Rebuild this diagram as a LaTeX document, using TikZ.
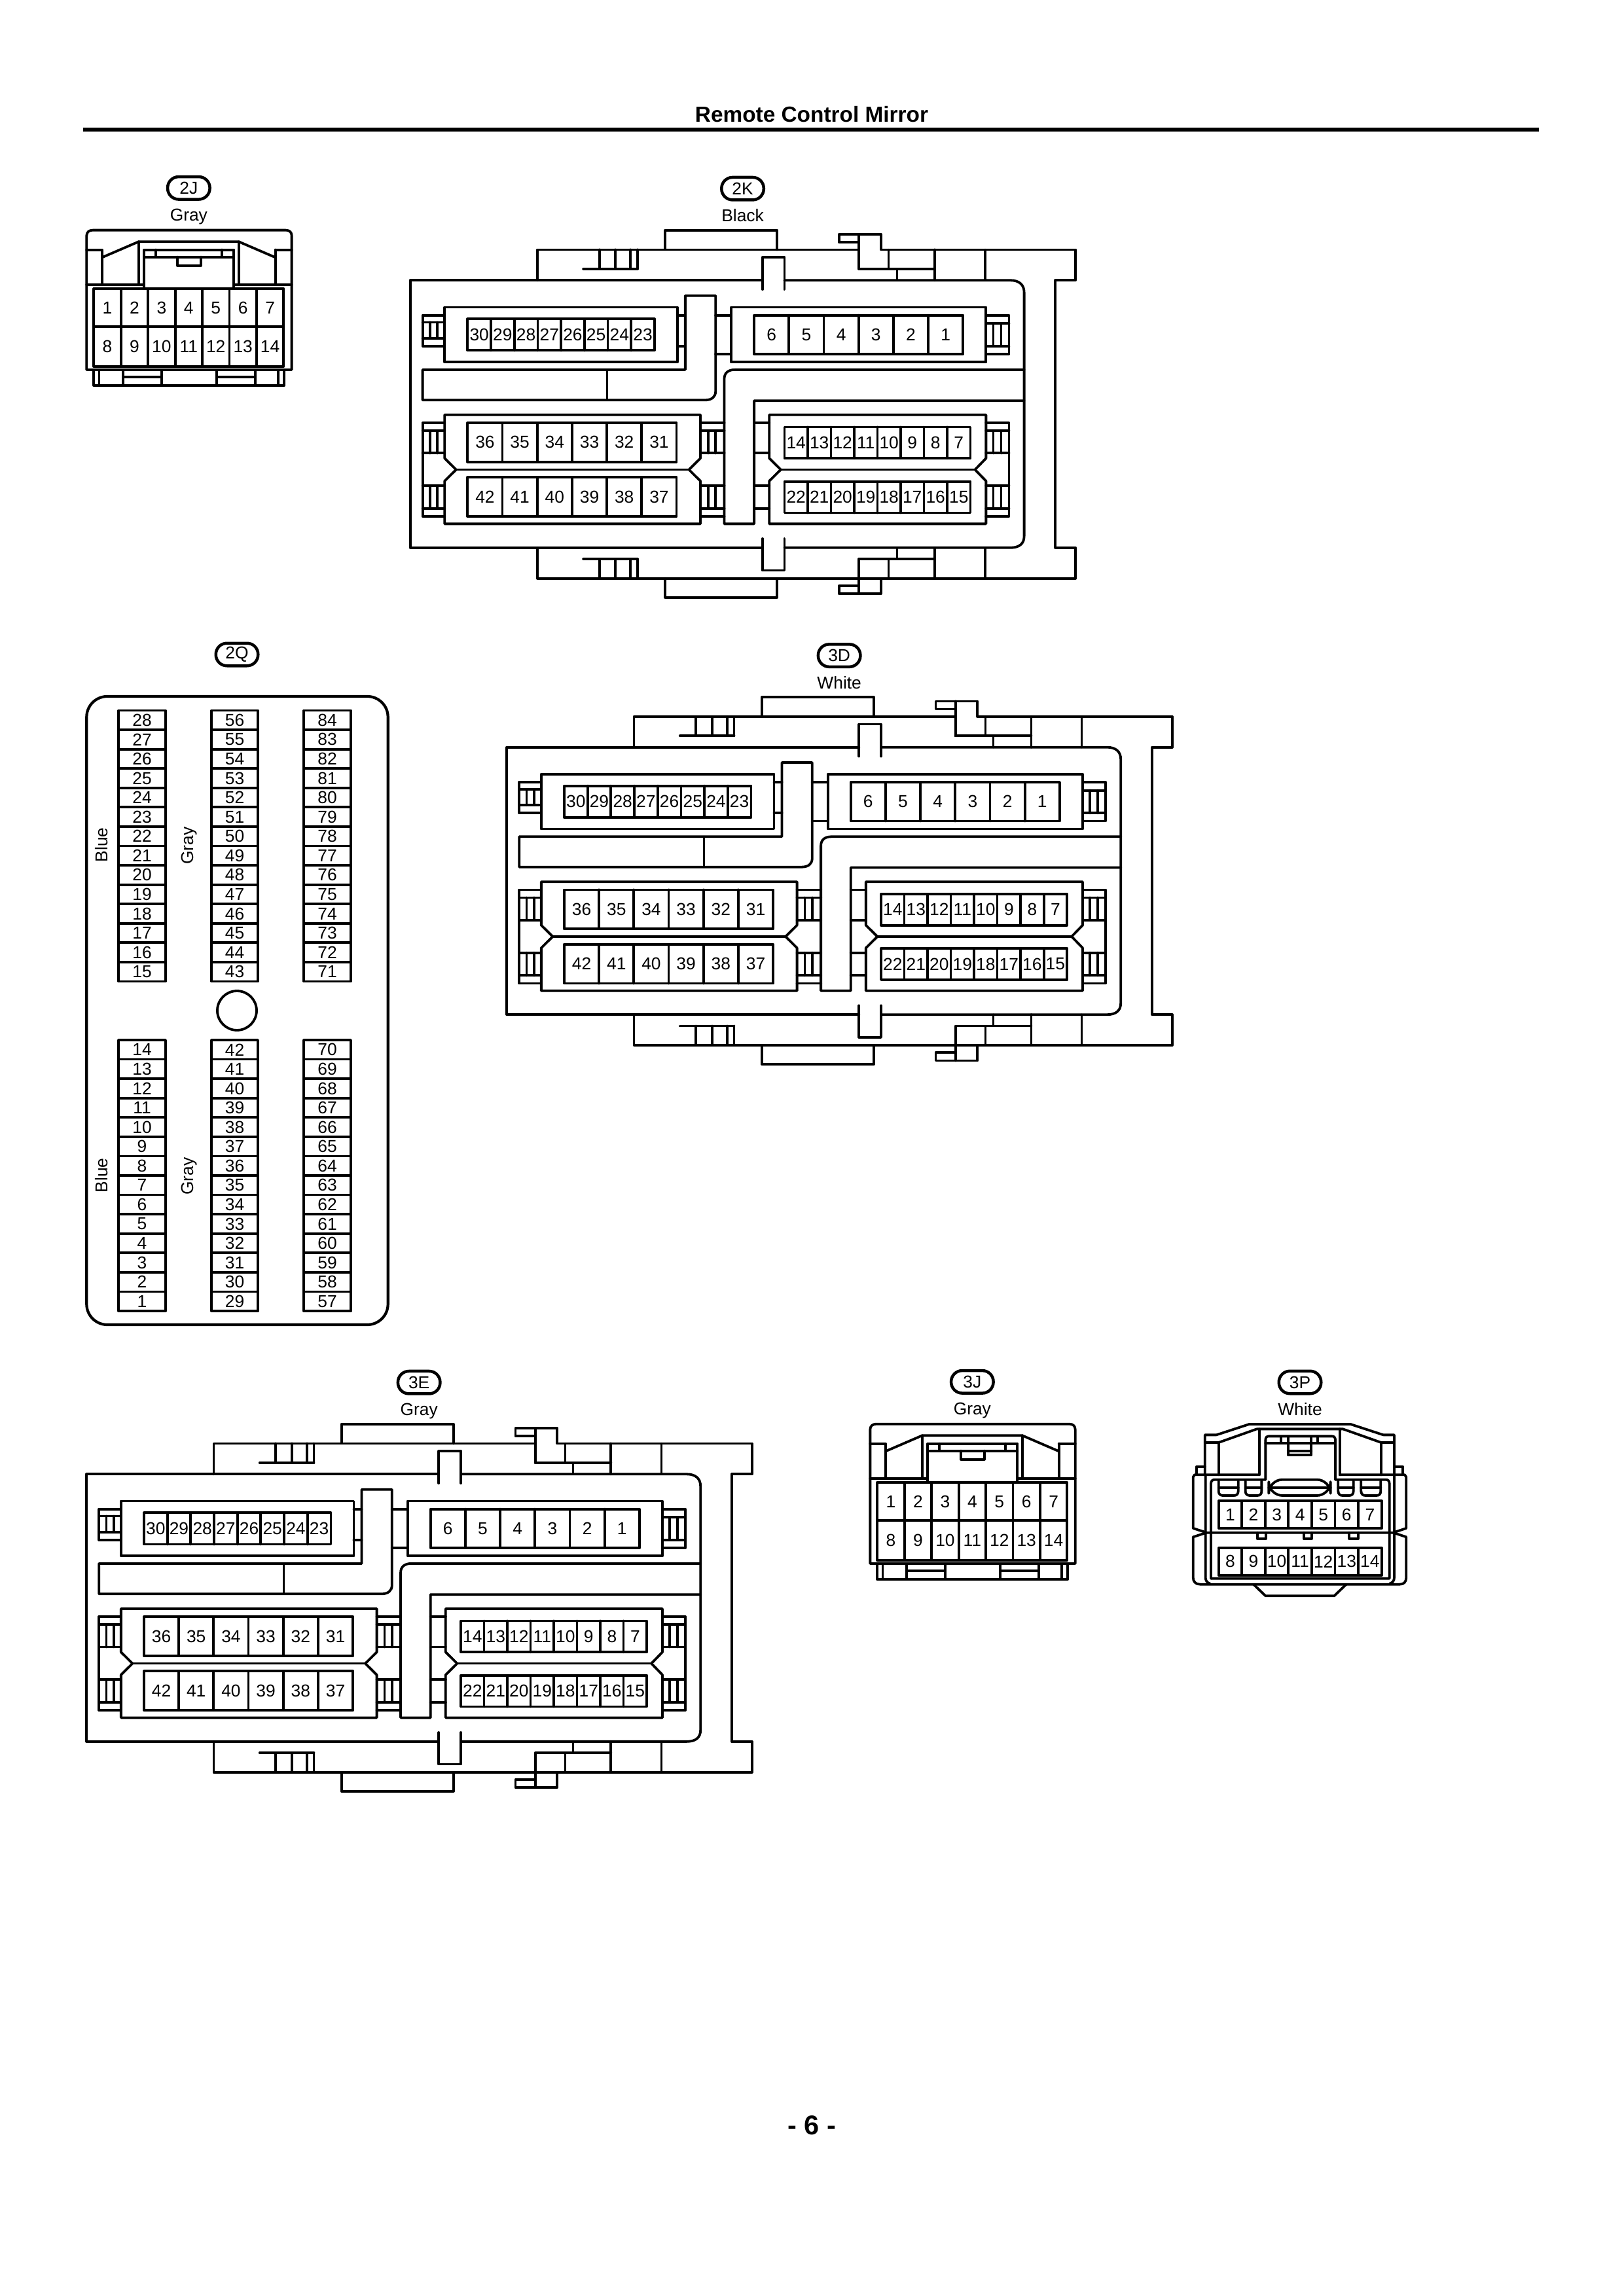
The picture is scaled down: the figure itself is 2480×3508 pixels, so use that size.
\documentclass[tikz,border=0pt]{standalone}
\usepackage{fontspec}
\setmainfont{Liberation Sans}
\usetikzlibrary{calc}
\tikzset{
  thk/.style={line width=0.38mm},
  thn/.style={line width=0.32mm},
  pintxt/.style={inner sep=0pt,font=\fontsize{7.5}{8}\selectfont},
  oval/.style={draw,rectangle,line width=0.45mm,rounded corners=4.8pt,minimum width=6.45mm,minimum height=3.45mm,inner sep=0pt,font=\fontsize{7.5}{8}\selectfont},
  colourtxt/.style={inner sep=0pt,text depth=0pt,text height=5.4pt,font=\fontsize{7.5}{8}\selectfont},
}
% pin row: x0,y0,x1,y1,n,labels
\newcommand{\pinrow}[6]{%
  \draw[thk] (#1,#2) rectangle (#3,#4);
  \foreach \lab [count=\i] in {#6} {
    \pgfmathsetmacro\xm{#1+(\i-0.5)*(#3-#1)/#5}
    \pgfmathsetmacro\xb{#1+\i*(#3-#1)/#5}
    \ifnum\i<#5 \draw[thk] (\xb,#2)--(\xb,#4);\fi
    \node[pintxt] (\cn-\lab) at (\xm,{(#2+#4)/2}) {\lab};
  }}
% vertical pin column for 2Q: x0,y0,x1,y1,first label
\newcommand{\pincol}[5]{%
  \draw[thk] (#1,#2) rectangle (#3,#4);
  \foreach \i in {0,...,13} {
    \pgfmathsetmacro\ym{#2+(\i+0.5)*(#4-#2)/14}
    \pgfmathsetmacro\yb{#2+(\i+1)*(#4-#2)/14}
    \pgfmathtruncatemacro\lab{#5-\i}
    \ifnum\i<13 \draw[thk] (#1,\yb)--(#3,\yb);\fi
    \node[pintxt] (\cn-\lab) at ({(#1+#3)/2},\ym) {\lab};
  }}
% ribs block: x0,x1, y of band top, band bottom, rib x a, rib x b
\newcommand{\ribband}[6]{%
  \draw[thk] (#1,#3)--(#2,#3) (#1,#4)--(#2,#4);
  \draw[thk] (#5,#3)--(#5,#4) (#6,#3)--(#6,#4);
}
% large connector, in the zoom coordinates of 2K
\newcommand{\bigconn}[5]{% prefix, shiftx, shifty, label, colour
 \begin{scope}[shift={(#2,#3)},shift={(600,260)},xscale=0.7015,yscale=0.4337,thk]
  \def\cn{#1}
  \node[oval] (#1-oval) at (762,65) {#4};
  \node[colourtxt] (#1-col) at (762,160) {#5};
  % top tab and upper housing
  \draw (593,278)--(593,212)--(837,212)--(837,280);
  \draw (315,388)--(315,280)--(1015,280);
  \draw (1015,348)--(1015,226);
  \draw (1015,254)--(972,254)--(972,226)--(1063,226)--(1063,280)--(1487,280)--(1487,388)--(1443,388)--(1443,1330)--(1487,1330)--(1487,1438)--(1063,1438)--(1063,1492)--(972,1492)--(972,1464)--(1015,1464);
  \draw (1015,1492)--(1015,1370)--(1180,1370);
  \draw (1015,348)--(1180,348);
  \draw (315,1330)--(315,1438)--(1063,1438);
  \draw (593,1438)--(593,1505)--(837,1505)--(837,1438);
  \draw (1180,280)--(1180,388) (1180,1330)--(1180,1438);
  \draw[thn] (1080,280)--(1080,348) (1290,280)--(1290,388) (1098,348)--(1098,388);
  \draw[thn] (1080,1370)--(1080,1438) (1290,1330)--(1290,1438) (1098,1330)--(1098,1370);
  % ribs top and bottom
  \draw[line cap=round] (415,348)--(533,348) (415,1370)--(533,1370);
  \draw (450,280)--(450,348) (485,280)--(485,348) (518,280)--(518,348) (533,280)--(533,348);
  \draw (450,1370)--(450,1438) (485,1370)--(485,1438) (518,1370)--(518,1438) (533,1370)--(533,1438);
  % centre notches
  \draw (805,420)--(805,307)--(853,307)--(853,420);
  \draw (805,1298)--(805,1410)--(853,1410)--(853,1298);
  % main body
  \draw (805,388)--(38,388)--(38,1330)--(805,1330);
  \draw (853,388)--(1345,388) .. controls (1365,388) and (1375,405) .. (1375,430)--(1375,1290) .. controls (1375,1315) and (1365,1330) .. (1345,1330)--(853,1330);
  % module A
  \draw (113,483) rectangle (620,676);
  \pinrow{163}{524}{570}{635}{8}{30,29,28,27,26,25,24,23}
  \draw (113,511)--(65,511)--(65,620)--(113,620);
  \ribband{65}{113}{536}{592}{81}{97}
  \draw (620,511)--(637,511) (620,620)--(637,620);
  % first L piece
  \draw (637,703)--(637,442)--(703,442)--(703,780) .. controls (703,798) and (695,810) .. (680,810)--(65,810)--(65,703)--(637,703);
  \draw[thn] (467,703)--(467,810);
  % module B
  \draw (737,483) rectangle (1292,676);
  \pinrow{787}{511}{1242}{648}{6}{6,5,4,3,2,1}
  \draw (703,511)--(737,511) (703,648)--(737,648);
  \draw (1292,511)--(1342,511)--(1342,648)--(1292,648);
  \ribband{1292}{1342}{540}{620}{1308}{1325}
  % second L piece
  \draw (1375,703)--(745,703) .. controls (730,703) and (722,715) .. (722,735)--(722,1246)--(787,1246)--(787,812)--(1375,812);
  % modules C and D
  \draw (113,862)--(670,862)--(670,1015)--(645,1055)--(670,1095)--(670,1246)--(113,1246)--(113,1095)--(138,1055)--(113,1015)--cycle;
  \draw (138,1055)--(645,1055);
  \pinrow{163}{890}{618}{1028}{6}{36,35,34,33,32,31}
  \pinrow{163}{1082}{618}{1220}{6}{42,41,40,39,38,37}
  \draw (113,890)--(65,890)--(65,1220)--(113,1220);
  \ribband{65}{113}{918}{997}{81}{97}
  \ribband{65}{113}{1112}{1192}{81}{97}
  \draw (670,890)--(722,890) (670,1220)--(722,1220);
  \ribband{670}{722}{918}{997}{687}{703}
  \ribband{670}{722}{1112}{1192}{687}{703}
  % modules E and F
  \draw (820,862)--(1292,862)--(1292,1015)--(1268,1055)--(1292,1095)--(1292,1246)--(820,1246)--(820,1095)--(845,1055)--(820,1015)--cycle;
  \draw (845,1055)--(1268,1055);
  \pinrow{853}{905}{1258}{1015}{8}{14,13,12,11,10,9,8,7}
  \pinrow{853}{1097}{1258}{1207}{8}{22,21,20,19,18,17,16,15}
  \draw (787,890)--(820,890) (787,997)--(820,997) (787,1112)--(820,1112) (787,1192)--(820,1192);
  \draw (1292,890)--(1342,890)--(1342,1220)--(1292,1220);
  \ribband{1292}{1342}{918}{997}{1308}{1325}
  \ribband{1292}{1342}{1112}{1192}{1308}{1325}
 \end{scope}}
% 14-pin gray connector
\newcommand{\smallconn}[5]{% prefix, shiftx, shifty, label, colour
 \begin{scope}[shift={(#2,#3)},shift={(100,240)},xscale=0.3333,yscale=0.3333,thk]
  \def\cn{#1}
  \node[oval] (#1-oval) at (565,142) {#4};
  \node[colourtxt] (#1-col) at (565,265) {#5};
  \draw (97,975)--(97,360) .. controls (97,345) and (108,335) .. (125,335)--(1010,335) .. controls (1027,335) and (1037,345) .. (1037,360)--(1037,975)--cycle;
  \draw (130,975)--(130,1047)--(1003,1047)--(1003,975);
  \draw[thn] (155,975)--(155,1047) (975,975)--(975,1047);
  \draw (265,975)--(265,1047) (440,975)--(440,1047) (692,975)--(692,1047) (870,975)--(870,1047);
  \draw[thn] (265,1008)--(440,1008) (692,1008)--(870,1008);
  \draw (97,425)--(168,425)--(168,585) (97,585)--(355,585);
  \draw (962,425)--(1037,425) (962,425)--(962,585) (775,585)--(1037,585);
  \draw (168,460)--(335,388)--(795,388)--(962,460);
  \draw (335,388)--(335,585) (795,388)--(795,585);
  \draw (360,600)--(360,425)--(772,425)--(772,600);
  \draw (360,458)--(772,458) (413,425)--(413,458) (718,425)--(718,458);
  \draw (513,458)--(513,497)--(620,497)--(620,458);
  \pinrow{130}{603}{1000}{778}{7}{1,2,3,4,5,6,7}
  \pinrow{130}{778}{1000}{960}{7}{8,9,10,11,12,13,14}
 \end{scope}}
\begin{document}
\begin{tikzpicture}[x=0.1mm,y=-0.1mm,line cap=round,line join=round]
\useasboundingbox (0,0) rectangle (2480,3508);
\fill[white] (0,0) rectangle (2480,3508);
% page head and foot
\node[inner sep=0pt,anchor=base,font=\bfseries\fontsize{9.5}{10}\selectfont] (title) at (1240,186.7) {Remote Control Mirror};
\coordinate (ruleL) at (127,198);
\coordinate (ruleR) at (2351,198);
\draw[line width=0.6mm,line cap=butt] (ruleL)--(ruleR);
\node[inner sep=0pt,anchor=base,font=\bfseries\fontsize{11.8}{12}\selectfont] (foot) at (1240,3261) {- 6 -};

\smallconn{J2}{0}{0}{2J}{Gray}
\smallconn{J3}{1197}{1824}{3J}{Gray}
\bigconn{K2}{0}{0}{2K}{Black}
\bigconn{D3}{147.6}{713.4}{3D}{White}
\bigconn{E3}{-494.4}{1824}{3E}{Gray}

% 2Q
\def\cn{Q2}
\node[oval] (Q2-oval) at (362,1000) {2Q};
\draw[thk,line width=0.42mm,rounded corners=9pt] (132.3,1064) rectangle (592.7,2024);
\pincol{181}{1085.5}{253}{1499.5}{28}
\pincol{323}{1085.5}{394}{1499.5}{56}
\pincol{464}{1085.5}{536}{1499.5}{84}
\pincol{181}{1589}{253}{2003}{14}
\pincol{323}{1589}{394}{2003}{42}
\pincol{464}{1589}{536}{2003}{70}
\node[thk,draw,circle,minimum size=6mm,inner sep=0pt] (Q2-hole) at (362,1544) {};
\node[colourtxt,rotate=90] (Q2-b1) at (155,1291) {Blue};
\node[colourtxt,rotate=90] (Q2-g1) at (286,1292) {Gray};
\node[colourtxt,rotate=90] (Q2-b2) at (155,1796) {Blue};
\node[colourtxt,rotate=90] (Q2-g2) at (286,1797) {Gray};

% 3P
\begin{scope}[shift={(1800,2150)},xscale=0.3333,yscale=0.3333,thk]
  \def\cn{P3}
  \node[oval] (P3-oval) at (558,-114) {3P};
  \node[colourtxt] (P3-col) at (558,9) {White};
  \draw (122,310)--(122,127)--(175,127)--(325,78)--(790,78)--(940,127)--(990,127)--(990,310);
  \draw (122,162)--(185,162)--(360,100)--(755,100)--(930,162)--(990,162);
  \draw (185,162)--(185,310) (930,162)--(930,310);
  \draw (372,100)--(372,310) (740,100)--(740,310);
  \draw (85,305)--(85,272)--(122,272) (990,272)--(1028,272)--(1028,305);
  \draw (68,555)--(68,320)--(75,310)--(372,310);
  \draw (740,310)--(1038,310)--(1045,320)--(1045,555);
  \draw (400,332)--(400,150) .. controls (400,140) and (405,133) .. (415,133)--(705,133) .. controls (715,133) and (720,140) .. (720,150)--(720,332);
  \draw (400,165)--(720,165) (470,135)--(470,165) (640,135)--(640,165);
  \draw (503,135)--(503,218)--(610,218)--(610,135) (503,200)--(610,200);
  % body
  \draw (68,555)--(130,575)--(985,575)--(1045,555);
  \draw (130,575)--(68,595)--(68,780) .. controls (68,800) and (80,812) .. (100,812)--(1015,812) .. controls (1035,812) and (1045,800) .. (1045,780)--(1045,595)--(985,575);
  \draw (125,310)--(125,780) .. controls (125,795) and (132,805) .. (145,808);
  \draw (990,310)--(990,780) .. controls (990,795) and (983,805) .. (970,808);
  \draw (150,785)--(150,350) .. controls (150,338) and (157,332) .. (168,332)--(400,332);
  \draw (720,332)--(950,332) .. controls (962,332) and (968,338) .. (968,350)--(968,785)--(150,785);
  % slots
  \draw (185,338)--(185,385) .. controls (185,398) and (193,405) .. (205,405)--(255,405) .. controls (268,405) and (275,398) .. (275,385)--(275,338);
  \draw (185,370)--(275,370);
  \draw (308,338)--(308,385) .. controls (308,398) and (316,405) .. (328,405)--(362,405) .. controls (375,405) and (382,398) .. (382,385)--(382,338);
  \draw (308,370)--(382,370);
  \draw[rounded corners=6pt] (415,332) rectangle (698,405);
  \draw (415,370)--(698,370);
  \draw (733,338)--(733,385) .. controls (733,398) and (741,405) .. (753,405)--(783,405) .. controls (796,405) and (803,398) .. (803,385)--(803,338);
  \draw (733,370)--(803,370);
  \draw (838,338)--(838,385) .. controls (838,398) and (846,405) .. (858,405)--(908,405) .. controls (921,405) and (928,398) .. (928,385)--(928,338);
  \draw (838,370)--(928,370);
  \pinrow{185}{430}{932}{555}{7}{1,2,3,4,5,6,7}
  \pinrow{185}{645}{932}{770}{7}{8,9,10,11,12,13,14}
  % pegs and clip
  \draw (362,575)--(362,602)--(402,602)--(402,575);
  \draw (575,575)--(575,602)--(612,602)--(612,575);
  \draw (783,575)--(783,602)--(825,602)--(825,575);
  \draw (345,812)--(400,865)--(715,865)--(770,812);
\end{scope}
\end{tikzpicture}
\end{document}
